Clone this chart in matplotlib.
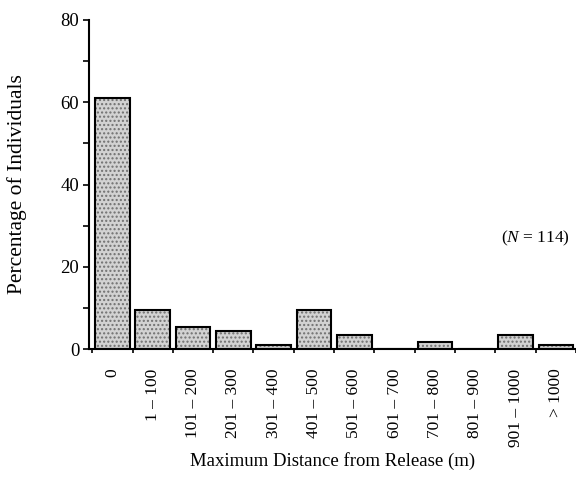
import numpy as np
import matplotlib
matplotlib.use("Agg")
import matplotlib.pyplot as plt

plt.rcParams['font.family'] = ['Liberation Serif', 'DejaVu Serif']
plt.rcParams['mathtext.fontset'] = 'custom'
plt.rcParams['mathtext.it'] = 'Liberation Serif:italic'
plt.rcParams['mathtext.rm'] = 'Liberation Serif'

# Distance classes and percentage of individuals
categories = ["0", "1 \u2013 100", "101 \u2013 200", "201 \u2013 300", "301 \u2013 400",
              "401 \u2013 500", "501 \u2013 600", "601 \u2013 700", "701 \u2013 800",
              "801 \u2013 900", "901 \u2013 1000", "> 1000"]
percent = [61.0, 9.6, 5.3, 4.4, 0.9, 9.6, 3.5, 0.0, 1.8, 0.0, 3.5, 0.9]

x = np.arange(len(categories))

fig = plt.figure(figsize=(5.76, 4.83), dpi=100)
ax = fig.add_axes([0.1545, 0.2774, 0.8455, 0.6812])

# stippled fill, then black outline
ax.bar(x, percent, width=0.86, color="#d2d2d2", hatch="....",
       edgecolor="#707070", linewidth=0)
ax.bar(x, percent, width=0.86, fill=False, edgecolor="black", linewidth=1.5)

ax.set_xlim(-0.58, 11.355)
ax.set_ylim(0, 80)

ax.spines['top'].set_visible(False)
ax.spines['right'].set_visible(False)
ax.spines['left'].set_linewidth(1.5)
ax.spines['bottom'].set_linewidth(1.5)

ax.set_yticks([0, 20, 40, 60, 80])
ax.set_yticks([10, 30, 50, 70], minor=True)
ax.tick_params(axis='y', which='both', direction='out', length=4, width=1.2,
               labelsize=13.5, pad=3)

# ticks at class boundaries, labels centred under the bars
ax.set_xticks(np.arange(len(categories) + 1) - 0.5)
ax.set_xticklabels([])
ax.set_xticks(x, minor=True)
ax.set_xticklabels(categories, minor=True, rotation=90, fontsize=12.5, va='top')
ax.tick_params(axis='x', which='major', direction='out', length=3, width=1.2)
ax.tick_params(axis='x', which='minor', length=0, pad=14)

ax.set_ylabel("Percentage of Individuals", fontsize=15.5, labelpad=24)
ax.set_xlabel("Maximum Distance from Release (m)", fontsize=13.5, labelpad=4)

ax.text(11.34, 27, r"($\mathit{N}$ = 114)", fontsize=12.5, ha='right', va='center')

fig.savefig("out.png", dpi=100)
